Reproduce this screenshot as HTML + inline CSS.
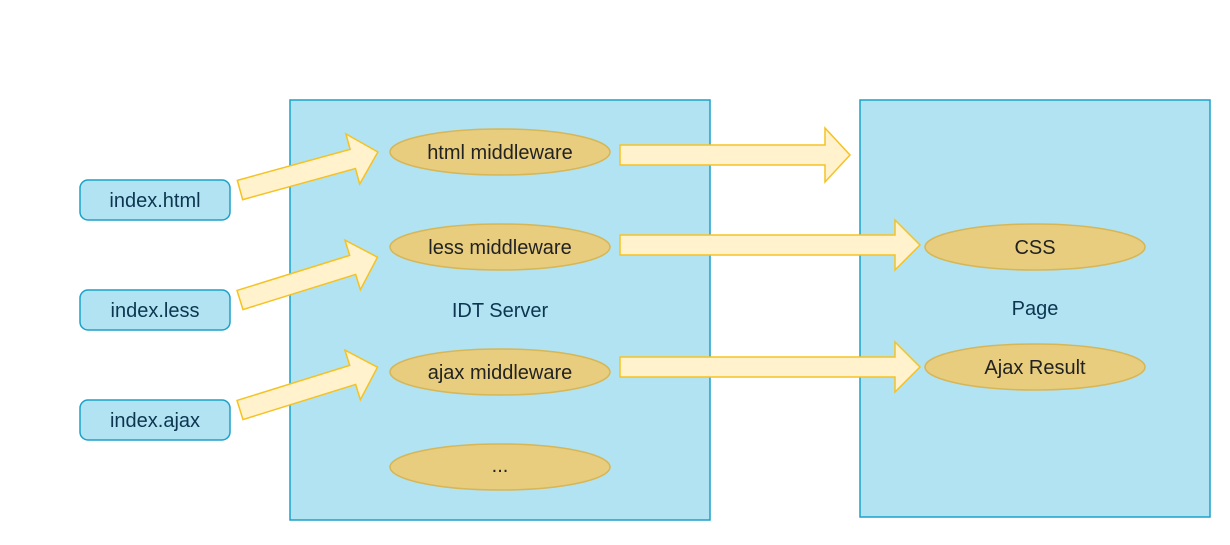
<!DOCTYPE html>
<html><head><style>body{margin:0;background:#fff}</style></head><body>
<svg width="1230" height="540" xmlns="http://www.w3.org/2000/svg" font-family="Liberation Sans, sans-serif">
<rect x="290" y="100" width="420" height="420" fill="#b1e3f2" stroke="#1ba1c9" stroke-width="1.5"/>
<rect x="860" y="100" width="350" height="417" fill="#b1e3f2" stroke="#1ba1c9" stroke-width="1.5"/>
<g fill="#b1e3f2" stroke="#1ba1c9" stroke-width="1.5">
<rect x="80" y="180" width="150" height="40" rx="8"/>
<rect x="80" y="290" width="150" height="40" rx="8"/>
<rect x="80" y="400" width="150" height="40" rx="8"/>
</g>
<g font-size="20" fill="#0d3550" text-anchor="middle">
<text x="155" y="207">index.html</text>
<text x="155" y="317">index.less</text>
<text x="155" y="427">index.ajax</text>
<text x="500" y="317">IDT Server</text>
<text x="1035" y="315">Page</text>
</g>
<g fill="#e8cd7e" stroke="#d6b656" stroke-width="1.5">
<ellipse cx="500" cy="152" rx="110" ry="23"/>
<ellipse cx="500" cy="247" rx="110" ry="23"/>
<ellipse cx="500" cy="372" rx="110" ry="23"/>
<ellipse cx="500" cy="467" rx="110" ry="23"/>
<ellipse cx="1035" cy="247" rx="110" ry="23"/>
<ellipse cx="1035" cy="367" rx="110" ry="23"/>
</g>
<g font-size="20" fill="#222" text-anchor="middle">
<text x="500" y="159">html middleware</text>
<text x="500" y="254">less middleware</text>
<text x="500" y="379">ajax middleware</text>
<text x="500" y="472">...</text>
<text x="1035" y="254">CSS</text>
<text x="1035" y="374">Ajax Result</text>
</g>
<g fill="#fff2cc" stroke="#f5c222" stroke-width="1.5">
<polygon transform="translate(240,190) rotate(-15.4)" points="0,-10 117,-10 117,-26 143,0 117,26 117,10 0,10"/>
<polygon transform="translate(240,300) rotate(-17.3)" points="0,-10 118,-10 118,-26 144,0 118,26 118,10 0,10"/>
<polygon transform="translate(240,410) rotate(-17.3)" points="0,-10 118,-10 118,-26 144,0 118,26 118,10 0,10"/>
<polygon points="620,145 825,145 825,128 850,155 825,182 825,165 620,165"/>
<polygon points="620,235 895,235 895,220 920,245 895,270 895,255 620,255"/>
<polygon points="620,357 895,357 895,342 920,367 895,392 895,377 620,377"/>
</g>
</svg>
</body></html>
